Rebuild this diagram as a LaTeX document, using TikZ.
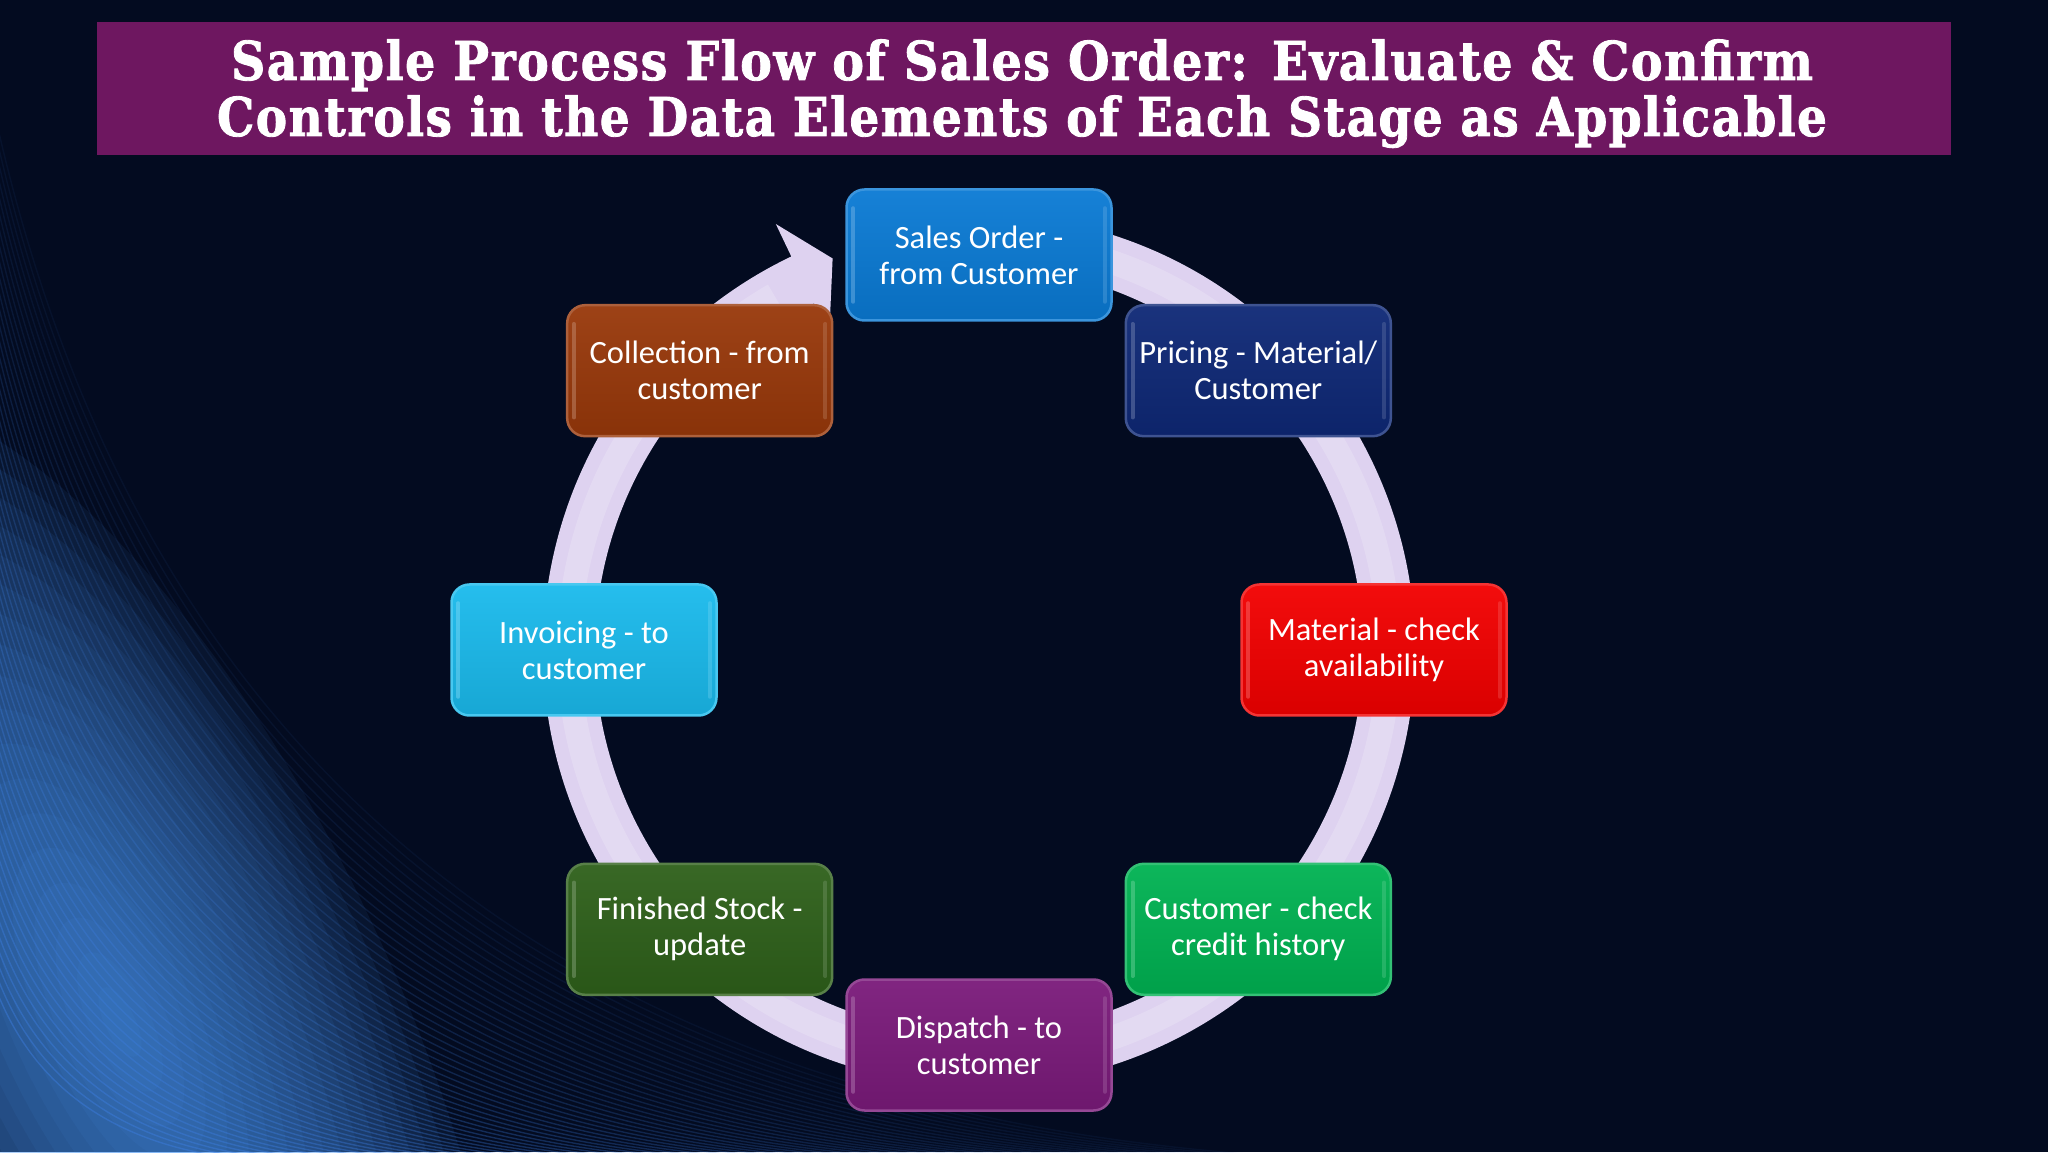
\documentclass[tikz,border=0pt]{standalone}
\usepackage{fontspec}
\usepackage{graphicx}
\setmainfont{Carlito}
\newfontfamily\titlefont[FakeBold=1.6,LetterSpace=3]{DejaVu Serif}
\usetikzlibrary{calc}
\definecolor{bg}{RGB}{3,11,32}
\definecolor{glow}{RGB}{75,150,240}
\definecolor{streakc}{RGB}{60,125,225}
\definecolor{titlecol}{RGB}{110,23,96}
\definecolor{ringcol}{RGB}{222,210,240}
\definecolor{cSales}{RGB}{10,122,212}
\definecolor{cPricing}{RGB}{14,40,118}
\definecolor{cMaterial}{RGB}{242,0,0}
\definecolor{cCustomer}{RGB}{0,178,82}
\definecolor{cDispatch}{RGB}{122,26,122}
\definecolor{cFinished}{RGB}{46,96,26}
\definecolor{cInvoice}{RGB}{26,186,236}
\definecolor{cCollect}{RGB}{152,56,10}
\newcommand{\stagebox}[4]{%
  \node[stage=#3] (#1) at (#2) {#4};
  \draw[hilite=#3] ($(#1.north west)+(8,-20)$) -- ($(#1.south west)+(8,20)$);
  \draw[hilite=#3, opacity=.3] ($(#1.north east)+(-8,-20)$) -- ($(#1.south east)+(-8,20)$);
}
\begin{document}
\begin{tikzpicture}[x=1pt,y=1pt,
  stage/.style={rounded corners=18pt, minimum width=265pt, minimum height=131pt,
    inner sep=0pt, align=center, text=white,
    font=\fontsize{32.5}{36}\selectfont,
    draw=#1!80!white, line width=2.5pt,
    top color=#1!95!white, middle color=#1, bottom color=#1!90!black},
  hilite/.style={line width=4pt, line cap=round, draw=#1!55!white, opacity=.45},
  streak/.style={draw=streakc, line width=1.4pt}]
\useasboundingbox (0,0) rectangle (2048,1152);
\fill[bg] (0,0) rectangle (2048,1152);
% background glow and streaks
\begin{scope}
  \clip (0,0) rectangle (2048,1152);
  \foreach \k in {1,...,18} {
    \fill[glow, opacity=0.075, shift={(120,130)}, rotate=116]
      (0,0) ellipse [x radius={38*\k}, y radius={15*\k}];
  }
  \foreach \i in {0,...,55} {
    \pgfmathsetmacro\yo{180+16*\i}
    \pgfmathsetmacro\xo{300+21*\i}
    \pgfmathsetmacro\op{0.45-0.007*\i}
    \draw[streak, opacity=\op] (-10,\yo) .. controls (0.1*\xo,0.3*\yo) and (0.45*\xo,-10) .. (\xo,-10);
  }
\end{scope}
% title
\node[fill=titlecol, minimum width=1854pt, minimum height=133pt, inner sep=0pt] (band) at (1024,1063.5) {};
\node[anchor=base, text=white, inner sep=0pt] (t1) at (1022,1072)
  {\titlefont\bfseries\fontsize{53.5}{56}\selectfont\resizebox{1582pt}{\height}{Sample Process Flow of Sales Order: Evaluate \& Confirm}};
\node[anchor=base, text=white, inner sep=0pt] (t2) at (1022,1016)
  {\titlefont\bfseries\fontsize{53.5}{56}\selectfont\resizebox{1610pt}{\height}{Controls in the Data Elements of Each Stage as Applicable}};
% ring with arrow
\coordinate (C) at (979,502);
\fill[ringcol] ($(C)+(75:436)$) arc[start angle=75, end angle=-244.5, radius=436pt]
  -- ($(C)+(-244.5:472)$) -- ($(C)+(-249.5:418)$) -- ($(C)+(-244.5:348)$)
  -- ($(C)+(-244.5:384)$) arc[start angle=-244.5, end angle=75, radius=384pt] -- cycle;
\draw[white, opacity=.18, line width=24pt] ($(C)+(75:410)$) arc[start angle=75, end angle=-240, radius=410pt];
% stages
\coordinate (p1) at ($(C)+(90:395)$);
\coordinate (p2) at ($(C)+(45:395)$);
\coordinate (p3) at ($(C)+(0:395)$);
\coordinate (p4) at ($(C)+(-45:395)$);
\coordinate (p5) at ($(C)+(-90:395)$);
\coordinate (p6) at ($(C)+(-135:395)$);
\coordinate (p7) at ($(C)+(180:395)$);
\coordinate (p8) at ($(C)+(135:395)$);
\stagebox{sales}{p1}{cSales}{Sales Order -\\from Customer}
\stagebox{pricing}{p2}{cPricing}{Pricing - Material/\\Customer}
\stagebox{material}{p3}{cMaterial}{Material - check\\availability}
\stagebox{customer}{p4}{cCustomer}{Customer - check\\credit history}
\stagebox{dispatch}{p5}{cDispatch}{Dispatch - to\\customer}
\stagebox{finished}{p6}{cFinished}{Finished Stock -\\update}
\stagebox{invoice}{p7}{cInvoice}{Invoicing - to\\customer}
\stagebox{collect}{p8}{cCollect}{Collection - from\\customer}
\end{tikzpicture}
\end{document}
